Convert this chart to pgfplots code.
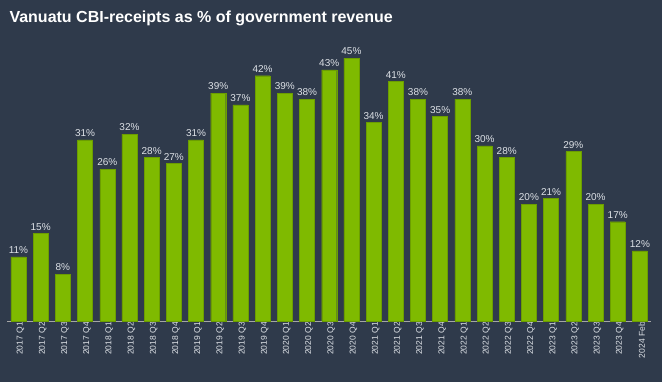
\documentclass[border=0pt]{standalone}
\usepackage{pgfplots}
\pgfplotsset{compat=1.18}
\usepackage{fontspec}
\setmainfont{Liberation Sans}
\definecolor{bg}{HTML}{2F3A4B}
\definecolor{bargreen}{HTML}{7FBA00}
\definecolor{lbl}{HTML}{DDE1E6}
\begin{document}
\begin{tikzpicture}[x=1pt,y=1pt]
\fill[bg] (0,0) rectangle (662,382);
\useasboundingbox (0,0) rectangle (662,382);
\node[anchor=west,text=white,font=\bfseries\fontsize{16}{19}\selectfont] at (6,364) {Vanuatu CBI-receipts as \% of government revenue};
\begin{axis}[
  at={(7.4pt,61pt)}, anchor=south west,
  scale only axis, width=643.6pt, height=292pt,
  xmin=-0.5, xmax=28.5, ymin=0, ymax=50,
  axis y line=none, axis x line*=bottom,
  x axis line style={draw=gray!70, line width=0.8pt, -},
  xtick=data, major tick length=0pt,
  /pgf/number format/assume math mode=true,
  xticklabels={2017 Q1,2017 Q2,2017 Q3,2017 Q4,2018 Q1,2018 Q2,2018 Q3,2018 Q4,2019 Q1,2019 Q2,2019 Q3,2019 Q4,2020 Q1,2020 Q2,2020 Q3,2020 Q4,2021 Q1,2021 Q2,2021 Q3,2021 Q4,2022 Q1,2022 Q2,2022 Q3,2022 Q4,2023 Q1,2023 Q2,2023 Q3,2023 Q4,2024 Feb},
  xticklabel style={rotate=90, anchor=east, text=lbl, font=\fontsize{8.5}{9}\selectfont, inner sep=1pt, yshift=-2pt},
  ybar, bar width=15pt,
  clip=false,
  nodes near coords={\pgfmathprintnumber{\pgfplotspointmeta}\%},
  every node near coord/.append style={text=lbl, font=\fontsize{10}{11}\selectfont, inner sep=2pt, yshift=1pt},
]
\addplot[fill=bargreen, draw=bargreen!85!black, line width=0.4pt] coordinates {
(0,11) (1,15) (2,8) (3,31) (4,26) (5,32) (6,28) (7,27) (8,31) (9,39) (10,37) (11,42) (12,39) (13,38) (14,43) (15,45) (16,34) (17,41) (18,38) (19,35) (20,38) (21,30) (22,28) (23,20) (24,21) (25,29) (26,20) (27,17) (28,12)
};
\end{axis}
\end{tikzpicture}
\end{document}
